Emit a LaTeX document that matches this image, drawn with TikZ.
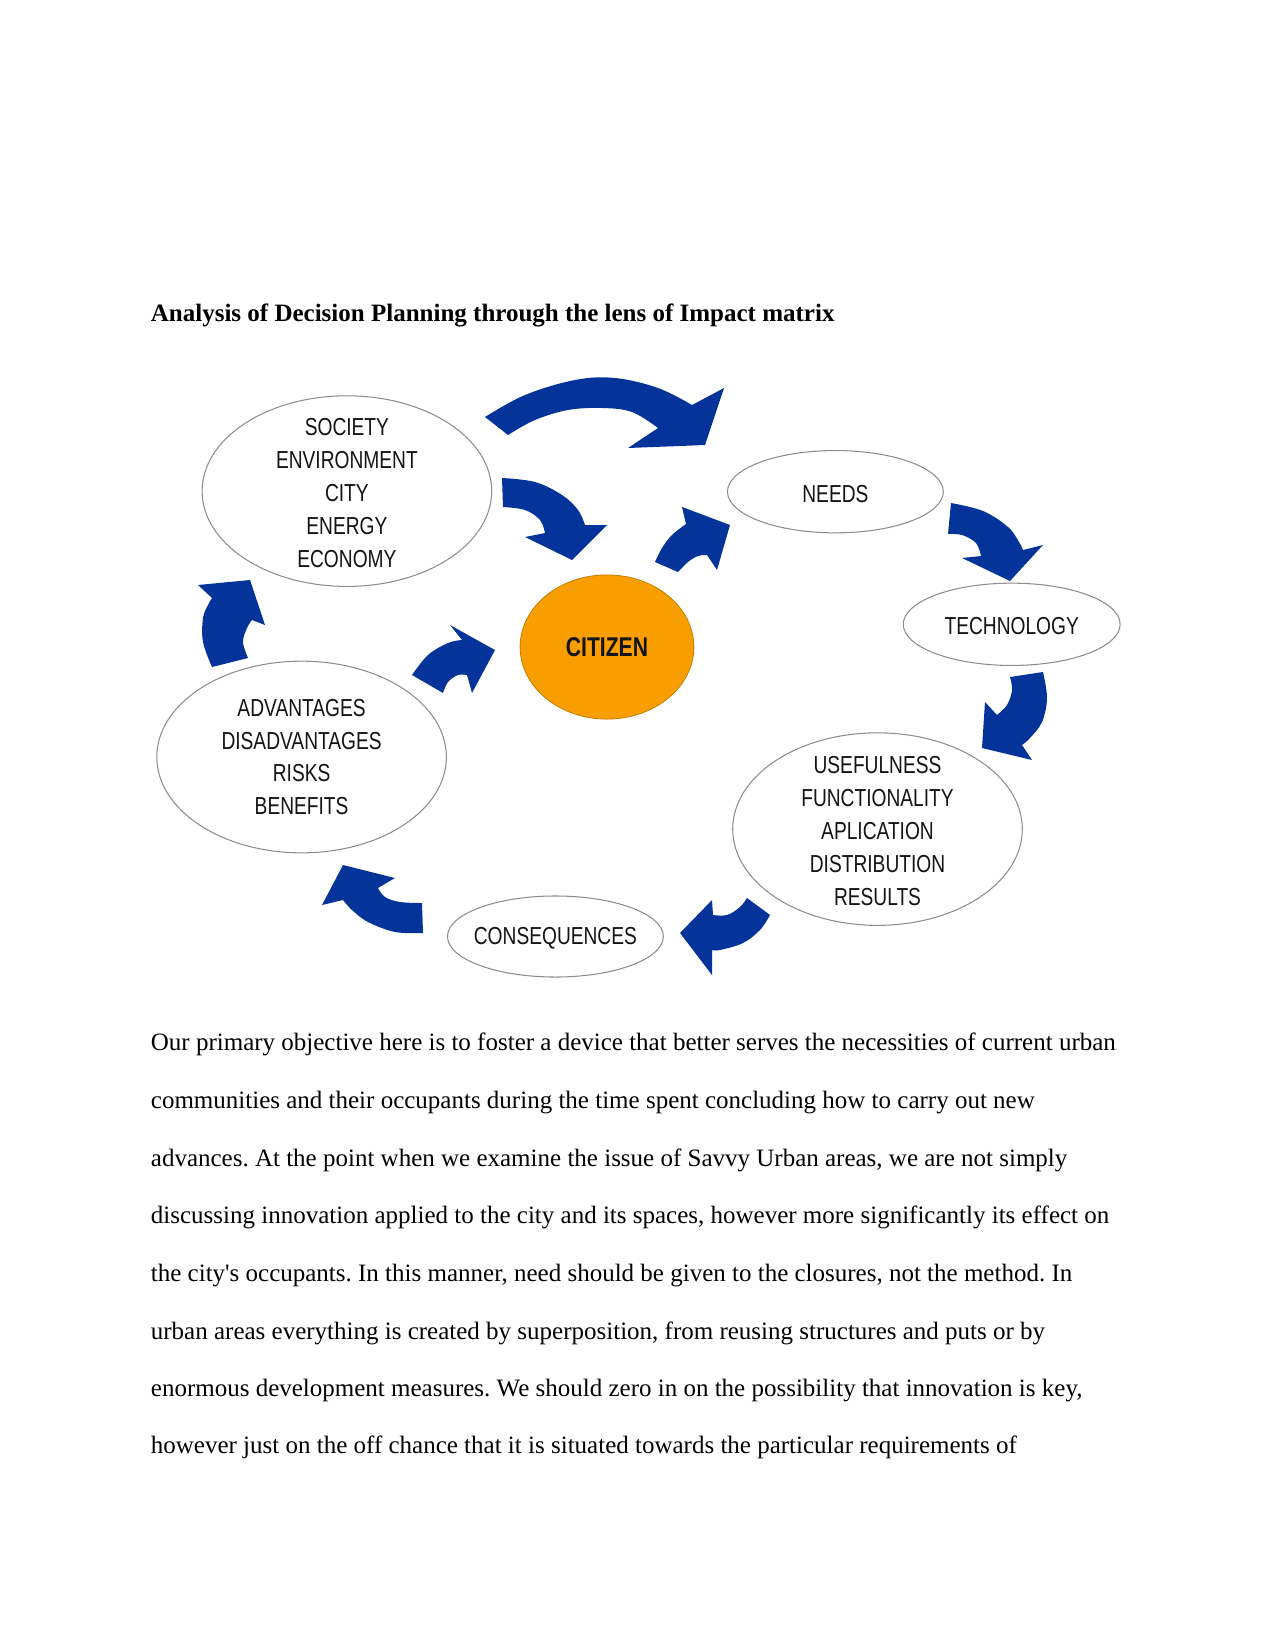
\documentclass[tikz,border=0pt]{standalone}
\usepackage{fontspec}
\setmainfont{Liberation Serif}[Ligatures=TeXOff]
\newfontfamily\lblfont[FakeStretch=0.78]{Liberation Sans}
\usetikzlibrary{shapes.geometric}
\definecolor{arrowblue}{RGB}{4,52,154}
\definecolor{citizenorange}{RGB}{248,158,0}
\definecolor{rimgray}{RGB}{140,140,140}
\definecolor{labelink}{RGB}{20,20,20}
\tikzset{
  bubble/.style={ellipse, draw=rimgray, line width=0.5pt, fill=white, inner sep=0pt},
  bubbletext/.style={align=center, text=labelink, inner sep=0pt,
    font=\lblfont\fontsize{11.8}{15.8}\selectfont},
  blockarrow/.style={fill=arrowblue, draw=none},
  bodyline/.style={anchor=base west, inner sep=0pt, font=\frenchspacing\fontsize{12}{14}\selectfont}
}
\begin{document}
\begin{tikzpicture}[x=0.48pt, y=-0.48pt]
\useasboundingbox (0,0) rectangle (1275,1651);

% title
\node[bodyline, font=\bfseries\fontsize{12}{14}\selectfont] (title) at (150.5,321)
  {Analysis of Decision Planning through the lens of Impact matrix};

% bubbles
\node[bubble, minimum width=139.0pt, minimum height=91.5pt] (soc) at (346.9,491.1) {};
\node[bubbletext] (soct) at ([yshift=-1pt]soc.center) {SOCIETY\\ENVIRONMENT\\CITY\\ENERGY\\ECONOMY};

\node[bubble, minimum width=103.6pt, minimum height=39.5pt] (needs) at (835.4,491.7) {};
\node[bubbletext] (needst) at ([yshift=-1pt]needs.center) {NEEDS};

\node[bubble, minimum width=104.1pt, minimum height=39.5pt] (tech) at (1011.7,624.3) {};
\node[bubbletext] (techt) at ([yshift=-1pt]tech.center) {TECHNOLOGY};

\node[bubble, minimum width=139.0pt, minimum height=92.4pt] (use) at (877.5,829.1) {};
\node[bubbletext] (uset) at ([yshift=-1pt]use.center) {USEFULNESS\\FUNCTIONALITY\\APLICATION\\DISTRIBUTION\\RESULTS};

\node[bubble, minimum width=103.6pt, minimum height=38.9pt] (cons) at (555.4,936.5) {};
\node[bubbletext] (const) at ([yshift=-1pt]cons.center) {CONSEQUENCES};

\node[bubble, minimum width=139.0pt, minimum height=92.0pt] (adv) at (301.6,757.0) {};
\node[bubbletext] (advt) at (adv.center) {ADVANTAGES\\DISADVANTAGES\\RISKS\\BENEFITS};

\node[ellipse, fill=citizenorange, draw=citizenorange!80!black, line width=0.4pt,
  minimum width=83.4pt, minimum height=69.2pt, inner sep=0pt] (cit) at (607,647) {};
\node[bubbletext, font=\lblfont\bfseries\fontsize{13}{15}\selectfont] (citt) at (cit.center) {CITIZEN};

% block arrows
% society -> needs (top)
\fill[blockarrow] plot[smooth, tension=0.6] coordinates {(485,417) (525,395) (575,380) (615,378) (658,388) (692,405)}
  -- (724,388) -- (705,445) -- (628,448)
  -- plot[smooth, tension=0.6] coordinates {(658,428) (632,412) (602,408) (568,410) (535,420) (508,435)} -- cycle;
% society -> citizen
\fill[blockarrow] plot[smooth, tension=0.6] coordinates {(502,478) (535,482) (562,495) (578,510) (585,525)}
  -- (607,525) -- (572,560) -- (525,537)
  -- plot[smooth, tension=0.6] coordinates {(545,533) (540,520) (525,510) (503,507)} -- cycle;
% citizen -> needs
\fill[blockarrow] plot[smooth, tension=0.6] coordinates {(655,562) (662,548) (672,535) (686,524)}
  -- (682,507) -- (730,525) -- (717,570)
  -- plot[smooth, tension=0.6] coordinates {(707,555) (698,556) (688,562) (678,572)} -- cycle;
% needs -> technology
\fill[blockarrow] plot[smooth, tension=0.6] coordinates {(951,503) (983,511) (1008,527) (1019,542) (1023,550)}
  -- (1043,545) -- (1010,581) -- (962,558)
  -- plot[smooth, tension=0.6] coordinates {(981,556) (976,543) (962,535) (948,534)} -- cycle;
% technology -> usefulness
\fill[blockarrow] plot[smooth, tension=0.6] coordinates {(1043,672) (1047,698) (1042,722) (1030,738) (1022,745)}
  -- (1032,760) -- (982,748) -- (985,702)
  -- plot[smooth, tension=0.6] coordinates {(997,715) (1007,705) (1012,690) (1010,677)} -- cycle;
% usefulness -> consequences
\fill[blockarrow] plot[smooth, tension=0.6] coordinates {(770,915) (760,930) (743,943) (720,950) (712,950)}
  -- (712,975) -- (680,933) -- (712,900)
  -- plot[smooth, tension=0.6] coordinates {(713,915) (727,915) (740,907) (747,898)} -- cycle;
% consequences -> advantages
\fill[blockarrow] plot[smooth, tension=0.6] coordinates {(423,933) (395,932) (368,922) (352,910) (343,900)}
  -- (322,905) -- (343,865) -- (395,878)
  -- plot[smooth, tension=0.6] coordinates {(378,888) (385,897) (400,902) (422,903)} -- cycle;
% advantages -> society
\fill[blockarrow] plot[smooth, tension=0.6] coordinates {(212,667) (203,642) (203,618) (208,605) (212,598)}
  -- (198,585) -- (250,580) -- (265,625)
  -- plot[smooth, tension=0.6] coordinates {(252,620) (247,628) (243,642) (248,658)} -- cycle;
% advantages -> citizen
\fill[blockarrow] plot[smooth, tension=0.6] coordinates {(412,675) (428,655) (448,643) (462,640)}
  -- (450,625) -- (495,650) -- (472,693)
  -- plot[smooth, tension=0.6] coordinates {(467,675) (458,675) (448,682) (443,693)} -- cycle;

% body text
\node[bodyline] (l1) at (150.5,1050.7) {Our primary objective here is to foster a device that better serves the necessities of current urban};
\node[bodyline] (l2) at (150.5,1108.6) {communities and their occupants during the time spent concluding how to carry out new};
\node[bodyline] (l3) at (150.5,1166.5) {advances. At the point when we examine the issue of Savvy Urban areas, we are not simply};
\node[bodyline] (l4) at (150.5,1223.3) {discussing innovation applied to the city and its spaces, however more significantly its effect on};
\node[bodyline] (l5) at (150.5,1281.2) {the city's occupants. In this manner, need should be given to the closures, not the method. In};
\node[bodyline] (l6) at (150.5,1339.1) {urban areas everything is created by superposition, from reusing structures and puts or by};
\node[bodyline] (l7) at (150.5,1396.0) {enormous development measures. We should zero in on the possibility that innovation is key,};
\node[bodyline] (l8) at (150.5,1453.9) {however just on the off chance that it is situated towards the particular requirements of};
\end{tikzpicture}
\end{document}
